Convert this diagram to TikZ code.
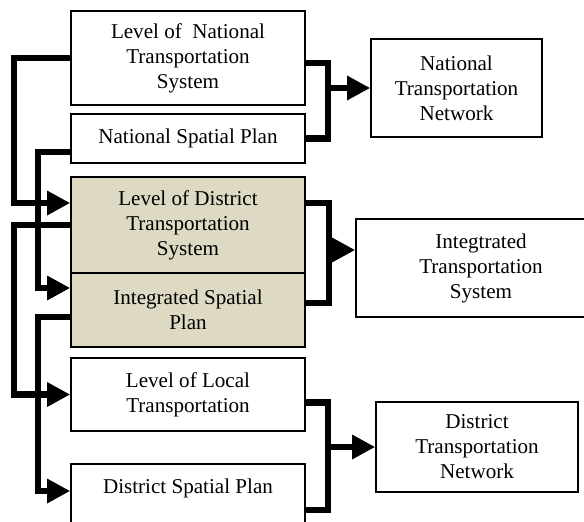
\documentclass[tikz,border=0pt]{standalone}
\usepackage{fontspec}
\setmainfont{Liberation Serif}
\usetikzlibrary{arrows.meta}
\definecolor{boxtan}{RGB}{221,217,195}
\begin{document}
\begin{tikzpicture}[
	box/.style={draw, line width=0.9pt, align=center, inner sep=0pt, font=\fontsize{12}{14.2}\selectfont},
	level/.style={box, minimum width=4.68cm},
	shaded/.style={fill=boxtan},
	link/.style={line width=3.5pt},
	feed/.style={link, -{Triangle[length=0.46cm, width=0.46cm]}}
	]
	\useasboundingbox (0,0) rectangle (11.68,-10.44);
	\clip (0,0) rectangle (11.68,-10.44);
	% left column
	\node[level, minimum height=1.88cm] (natsys) at (3.76,-1.16) {Level of\ \ National\\Transportation\\System};
	\node[level, minimum height=0.98cm] (natplan) at (3.76,-2.77) {National Spatial Plan};
	\node[level, shaded, minimum height=1.92cm] (distsys) at (3.76,-4.50) {Level of District\\Transportation\\System};
	\node[level, shaded, minimum height=1.48cm] (intplan) at (3.76,-6.20) {Integrated Spatial\\Plan};
	\node[level, minimum height=1.46cm] (locsys) at (3.76,-7.89) {Level of Local\\Transportation};
	\node[level, anchor=north, inner ysep=0.31cm, text depth=0.9cm] (distplan) at (3.76,-9.26) {District Spatial Plan};
	% right column
	\node[box, minimum width=3.42cm, minimum height=1.96cm] (natnet) at (9.13,-1.76) {National\\Transportation\\Network};
	\node[box, minimum width=5.0cm, minimum height=1.96cm] (intnet) at (9.62,-5.36) {Integtrated\\Transportation\\System};
	\node[box, minimum width=4.04cm, minimum height=1.80cm] (distnet) at (9.54,-8.94) {District\\Transportation\\Network};
	% spines
	\coordinate (outer) at (0.28,0);
	\coordinate (inner) at (0.76,0);
	\coordinate (natjoin) at (6.56,0);
	\coordinate (intjoin) at (6.58,0);
	\coordinate (distjoin) at (6.56,0);
	% connection points off the centre lines
	\coordinate (dsin) at ([yshift=0.44cm]distsys.west);
	\coordinate (ipin) at ([yshift=0.44cm]intplan.west);
	\coordinate (npout) at ([yshift=-0.27cm]natplan.west);
	\coordinate (ipout) at ([yshift=-0.14cm]intplan.west);
	\coordinate (dpin) at ([yshift=-0.56cm]distplan.north west);
	\coordinate (dpout) at ([yshift=-0.94cm]distplan.north east);
	\coordinate (ipr) at ([yshift=0.14cm]intplan.east);
	\coordinate (itin) at ([yshift=0.36cm]intnet.west);
	% left feeds
	\draw[feed] (natsys.west) -| (outer |- dsin) -- (dsin);
	\draw[feed] (npout) -| (inner |- ipin) -- (ipin);
	\draw[feed] (distsys.west) -| (outer |- locsys.west) -- (locsys.west);
	\draw[feed] (ipout) -| (inner |- dpin) -- (dpin);
	% right joins
	\draw[link] ([yshift=-0.1cm]natsys.east) -| (natjoin |- natplan.east) -- (natplan.east);
	\draw[feed] (natjoin |- natnet.west) -- (natnet.west);
	\draw[link] ([yshift=0.44cm]distsys.east) -| (intjoin |- ipr) -- (ipr);
	\draw[feed] (intjoin |- itin) -- (itin);
	\draw[link] ([yshift=-0.16cm]locsys.east) -| (distjoin |- dpout) -- (dpout);
	\draw[feed] (distjoin |- distnet.west) -- (distnet.west);
\end{tikzpicture}
\end{document}
